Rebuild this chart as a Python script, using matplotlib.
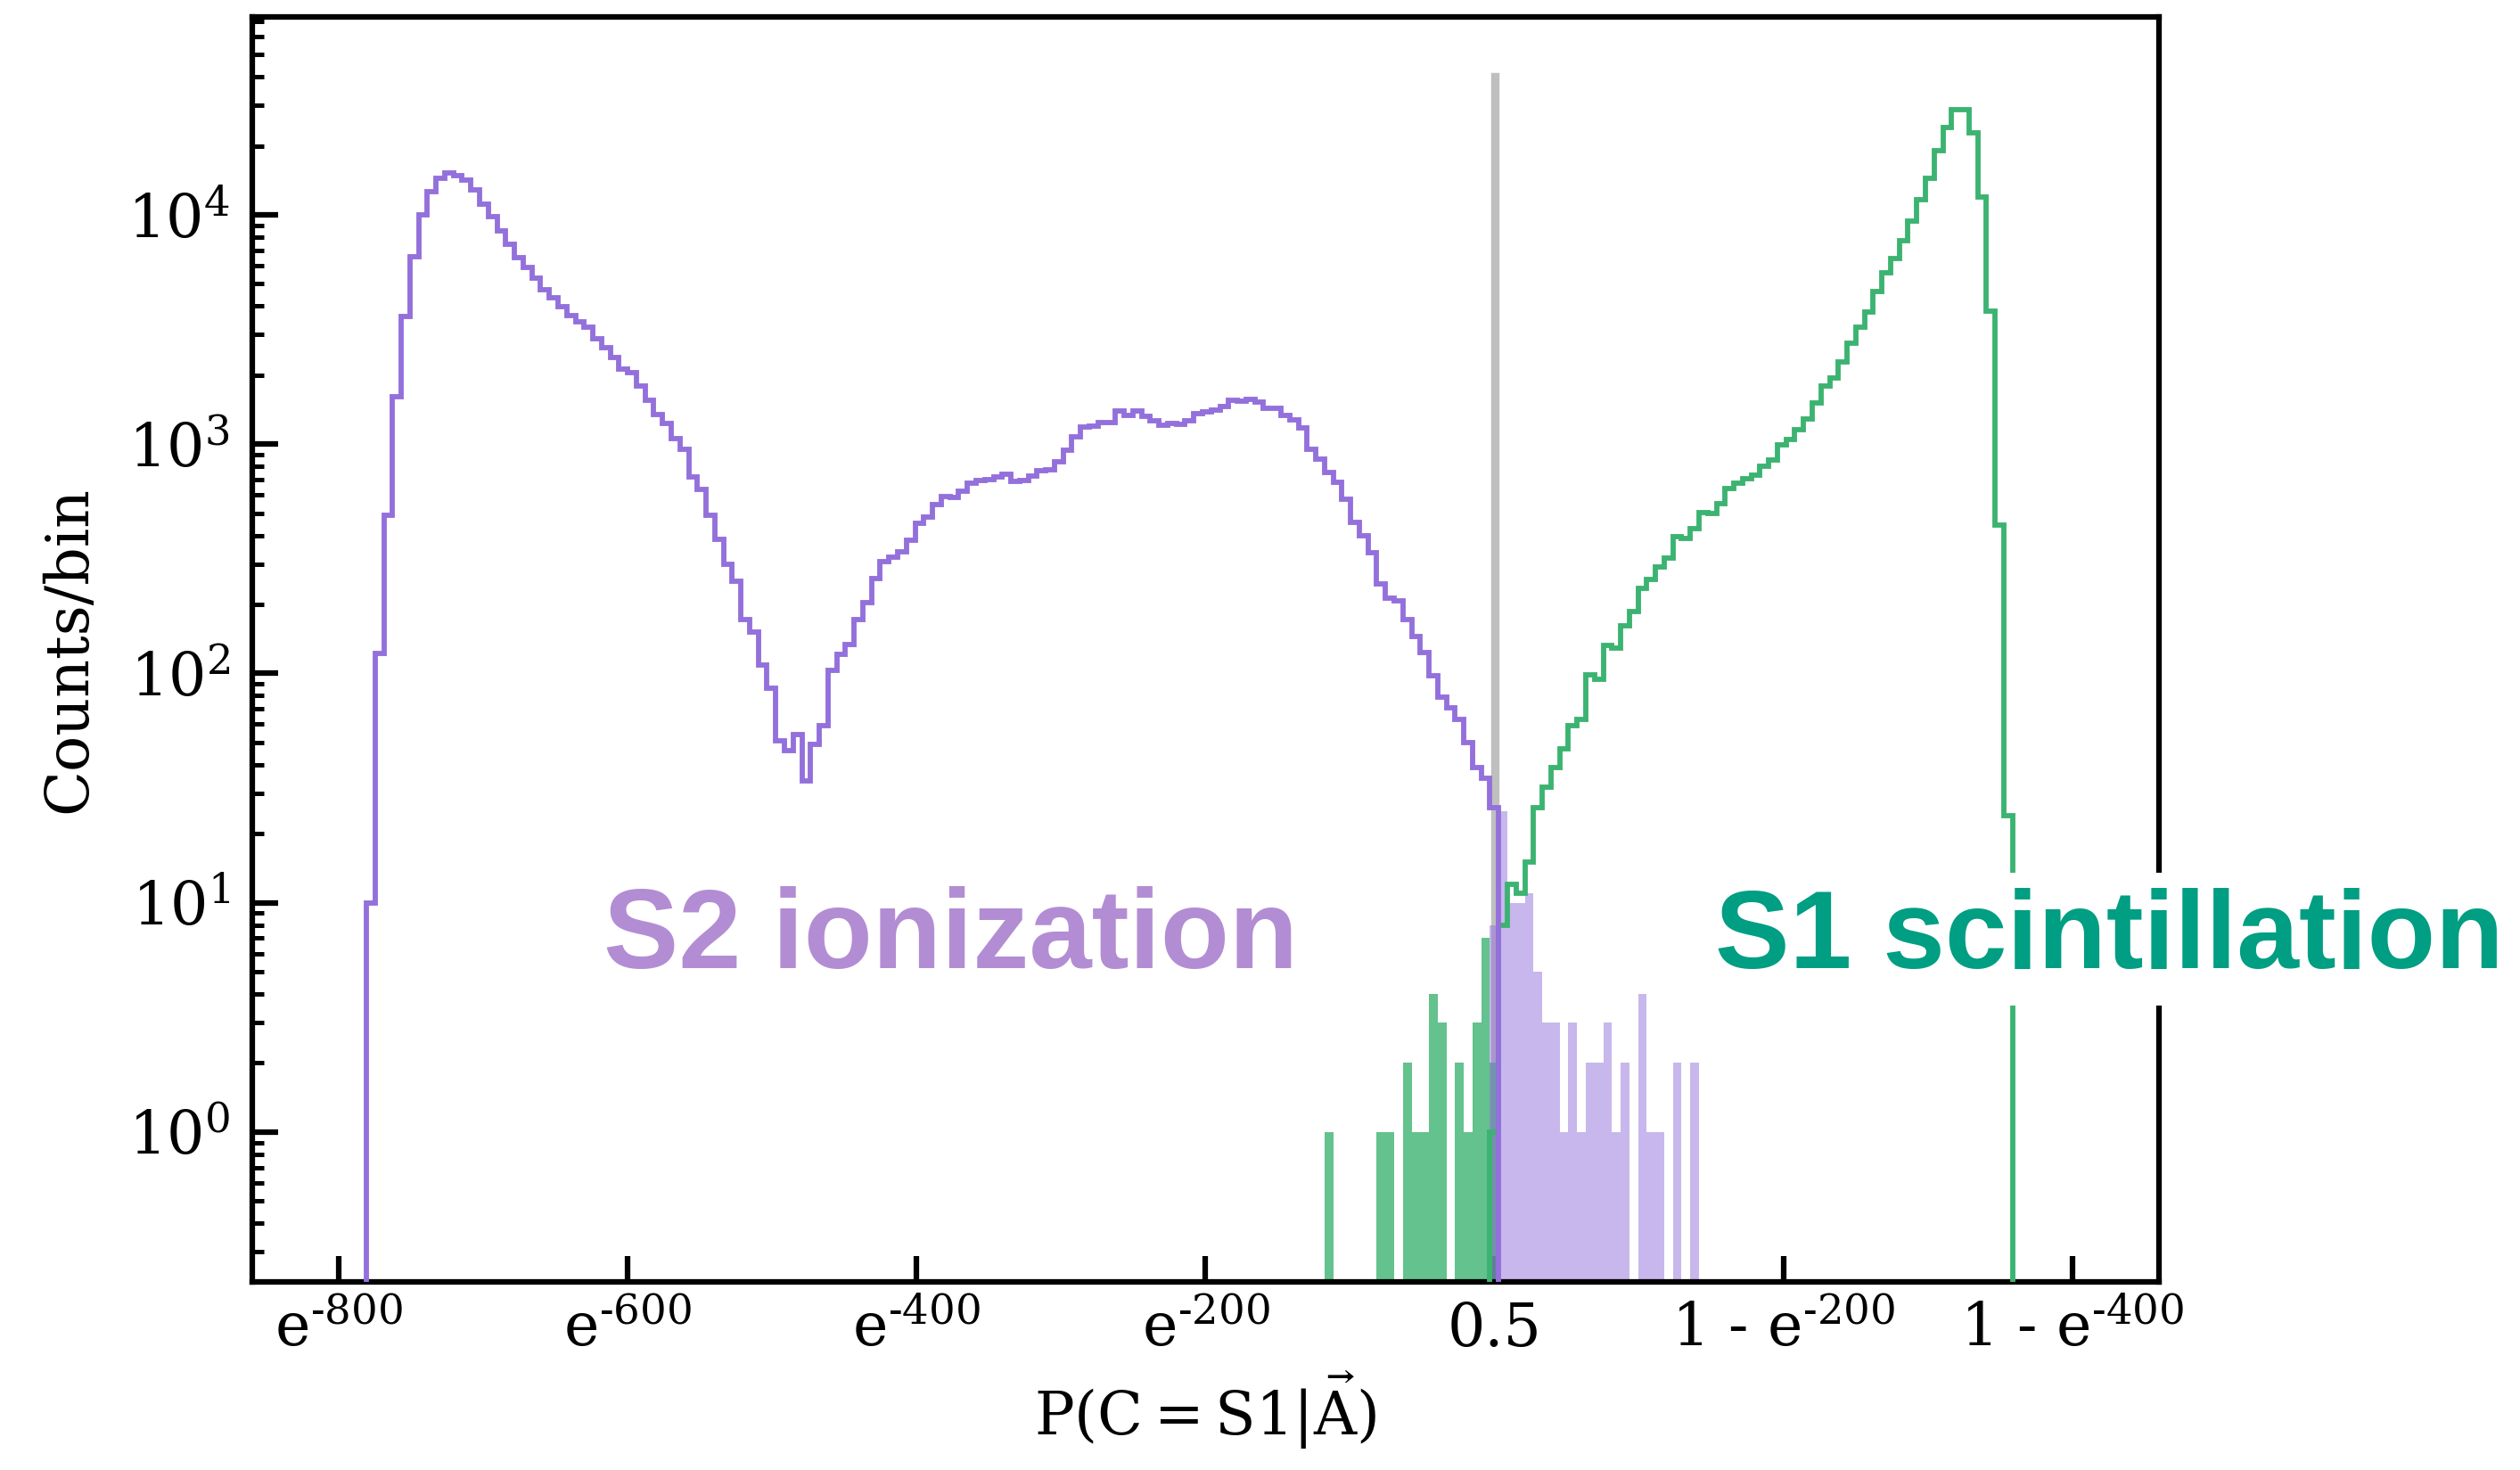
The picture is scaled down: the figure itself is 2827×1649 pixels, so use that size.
import numpy as np
import matplotlib
matplotlib.use("Agg")
import matplotlib.pyplot as plt
from matplotlib.ticker import FixedLocator, NullLocator, LogLocator

plt.rcParams['font.family'] = ['DejaVu Serif']
plt.rcParams['mathtext.fontset'] = 'dejavuserif'

# histogram bins in the log-odds coordinate (shared by all four histograms)
edge_lo, edge_hi, n_bins = -781.0, 358.7, 189

# S2 events, outline histogram (bins 0..129)
s2_first = 0
s2_counts = [
    10, 122, 490, 1610, 3600, 6580, 10000, 12600, 14500, 15200,
    14800, 14200, 12900, 11100, 9780, 8520, 7460, 6530, 5920, 5300,
    4700, 4360, 3960, 3630, 3410, 3240, 2890, 2630, 2380, 2130,
    2050, 1800, 1560, 1345, 1230, 1060, 950, 720, 632, 490,
    384, 298, 253, 172, 152, 109, 86, 51, 46, 54,
    34, 49, 59, 103, 121, 134, 172, 204, 259, 307,
    321, 339, 382, 451, 481, 546, 589, 583, 625, 677,
    697, 701, 719, 740, 689, 693, 724, 763, 770, 834,
    940, 1072, 1186, 1202, 1245, 1245, 1393, 1337, 1393, 1324,
    1268, 1208, 1230, 1216, 1259, 1361, 1380, 1403, 1459, 1560,
    1545, 1570, 1528, 1432, 1432, 1337, 1279, 1175, 951, 863,
    753, 679, 573, 456, 400, 337, 245, 212, 207, 171,
    145, 123, 98, 79, 71, 63, 50, 39, 35, 26,
]

# S1 events, outline histogram (bins 129..188)
s1_first = 129
s1_counts = [
    1, 8, 12, 11, 15, 26, 32, 39, 47, 59,
    63, 99, 94, 132, 129, 162, 186, 234, 256, 292,
    318, 396, 388, 427, 505, 497, 550, 640, 677, 706,
    735, 798, 855, 992, 1044, 1152, 1285, 1514, 1800, 1950,
    2290, 2750, 3240, 3760, 4640, 5580, 6460, 7690, 9400, 11600,
    14400, 19000, 24000, 28800, 28800, 22700, 12000, 3800, 443, 24,
]

# misclassified S1 events, filled (bins 110..129)
s1_mis_first = 110
s1_mis_counts = [1, 0, 0, 0, 0, 0, 1, 1, 0, 2, 1, 1, 4, 3, 0, 2, 1, 3, 7, 2]

# misclassified S2 events, filled (bins 129..152)
s2_mis_first = 129
s2_mis_counts = [8, 25, 10, 10, 11, 5, 3, 3, 1, 3, 1, 2, 2, 3, 1, 2, 0, 4, 1, 1, 0, 2, 0, 2]

tick_pos = [-800, -600, -400, -200, 0, 200, 400]
tick_lab = ['e$^{\u2010800}$', 'e$^{\u2010600}$', 'e$^{\u2010400}$', 'e$^{\u2010200}$', '0.5',
            '1 - e$^{\u2010200}$', '1 - e$^{\u2010400}$']

purple = '#9370DB'
green = '#3CB371'

edges = np.linspace(edge_lo, edge_hi, n_bins + 1)
bw = edges[1] - edges[0]

fig = plt.figure(figsize=(2827 / 300, 1649 / 300), dpi=300)
ax = fig.add_axes([0.1001, 0.128, 0.7566, 0.8605])
ax.set_yscale('log')
ylo, yhi = 0.222, 7.3e4
floor = 1e-3

# decision boundary
ax.plot([0, 0], [floor, 4.0e4], color='#bfbfbf', lw=2.25, zorder=1)

def bars(first, counts, color, alpha, z):
    c = np.asarray(counts, dtype=float)
    left = edges[first:first + len(c)]
    m = c > 0
    ax.bar(left[m], c[m], width=bw, align='edge', bottom=floor,
           color=color, alpha=alpha, linewidth=0, zorder=z)

bars(s1_mis_first, s1_mis_counts, green, 0.8, 1.6)
bars(s2_mis_first, s2_mis_counts, purple, 0.5, 1.7)

ax.stairs(s1_counts, edges[s1_first:s1_first + len(s1_counts) + 1],
          baseline=floor, color=green, lw=1.4, zorder=3)
ax.stairs(s2_counts, edges[s2_first:s2_first + len(s2_counts) + 1],
          baseline=floor, color=purple, lw=1.4, zorder=3.1)

ax.text(-617, 5.2, 'S2 ionization', family='Liberation Sans', weight='bold',
        fontsize=30.3, color='#b38dd3', ha='left', va='baseline', zorder=4)
ax.text(153, 5.2, 'S1 scintillation', family='Liberation Sans', weight='bold',
        fontsize=30.1, color='#009e82', ha='left', va='baseline', zorder=4,
        bbox=dict(facecolor='white', edgecolor='none'), clip_on=False)

ax.set_xlim(-860, 460)
ax.set_ylim(ylo, yhi)
ax.xaxis.set_major_locator(FixedLocator(tick_pos))
ax.set_xticklabels(tick_lab)
ax.xaxis.set_minor_locator(NullLocator())
ax.yaxis.set_major_locator(LogLocator(base=10, numticks=20))
ax.yaxis.set_minor_locator(LogLocator(base=10, subs=np.arange(2, 10), numticks=20))

ax.tick_params(which='both', direction='in', top=False, right=False)
ax.tick_params(which='major', length=7, width=1.5, labelsize=16, pad=6)
ax.tick_params(axis='x', which='major', pad=5)
ax.tick_params(which='minor', length=3.2, width=1.2)
for s in ax.spines.values():
    s.set_linewidth(1.5)

ax.set_xlabel(r'$\mathrm{P(C = S1|\vec{A})}$', fontsize=16, labelpad=3)
ax.set_ylabel('Counts/bin', fontsize=16, labelpad=8)

fig.savefig('out.png', dpi=300)
